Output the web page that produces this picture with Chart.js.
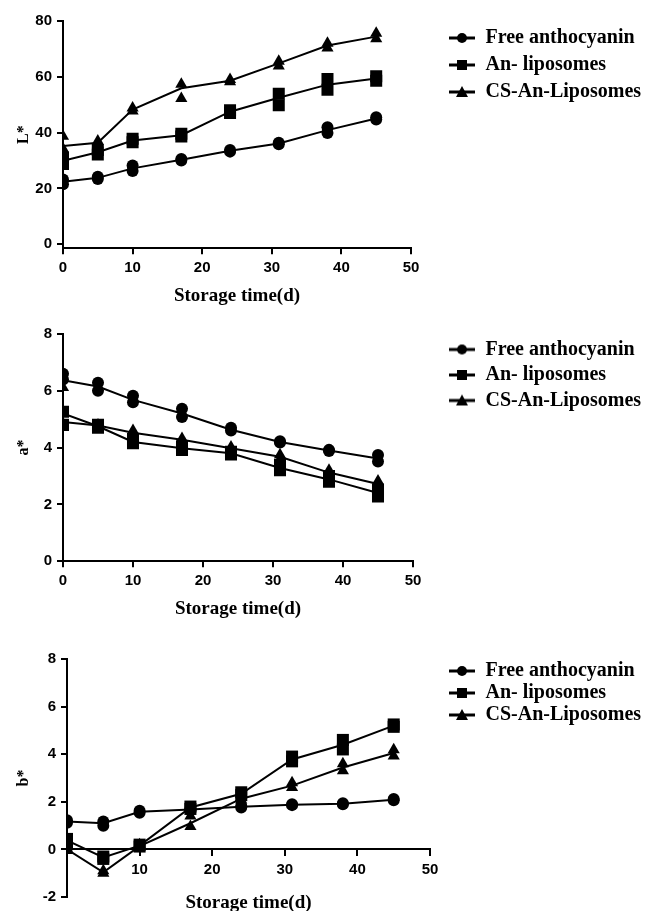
<!DOCTYPE html>
<html>
<head>
<meta charset="utf-8">
<script src="https://cdn.jsdelivr.net/npm/chart.js@4.4.1/dist/chart.umd.min.js"></script>
<style>
  html, body { margin: 0; padding: 0; background: #fff; }
  body { width: 650px; height: 911px; position: relative; overflow: hidden; }
  .panel { position: absolute; left: 0; width: 700px; }
</style>
</head>
<body>
<div class="panel" style="top:0;height:310px"><canvas id="chartL"></canvas></div>
<div class="panel" style="top:310px;height:312px"><canvas id="chartA"></canvas></div>
<div class="panel" style="top:620px;height:291px"><canvas id="chartB"></canvas></div>
<script>
// storage days
const days = [0, 5, 10, 17, 24, 31, 38, 45];
const seriesNames = ["Free anthocyanin", "An- liposomes", "CS-An-Liposomes"];

// L* : line = mean, repA / repB = the two replicate markers
const lFreeMean = [22.4, 23.8, 27.2, 30.3, 33.5, 36.1, 40.9, 45.1];
const lFreeRepA = [23.2, 24.2, 28.2, 30.6, 33.8, 36.4, 41.9, 45.5];
const lFreeRepB = [21.5, 23.4, 26.3, 30.0, 33.2, 35.8, 39.9, 44.7];
const lAnMean = [29.9, 33.0, 37.2, 39.1, 47.5, 52.5, 57.2, 59.4];
const lAnRepA = [31.1, 33.8, 37.8, 39.6, 48.0, 53.9, 59.2, 60.2];
const lAnRepB = [28.8, 32.2, 36.6, 38.6, 47.0, 49.8, 55.4, 58.6];
const lCsMean = [35.2, 36.4, 48.3, 55.9, 58.6, 64.8, 71.2, 74.4];
const lCsRepA = [38.7, 37.0, 48.8, 57.3, 59.0, 65.6, 72.0, 75.6];
const lCsRepB = [34.2, 35.8, 47.8, 52.2, 58.2, 63.9, 70.3, 73.6];

// a*
const aFreeMean = [6.37, 6.15, 5.68, 5.2, 4.63, 4.2, 3.9, 3.62];
const aFreeRepA = [6.6, 6.28, 5.83, 5.37, 4.7, 4.22, 3.92, 3.74];
const aFreeRepB = [6.4, 6.0, 5.6, 5.08, 4.6, 4.18, 3.88, 3.51];
const aAnMean = [5.2, 4.75, 4.2, 3.98, 3.8, 3.28, 2.88, 2.4];
const aAnRepA = [5.26, 4.8, 4.3, 4.05, 3.85, 3.4, 3.0, 2.52];
const aAnRepB = [4.8, 4.7, 4.15, 3.92, 3.76, 3.2, 2.8, 2.28];
const aCsMean = [4.9, 4.78, 4.52, 4.28, 3.98, 3.68, 3.12, 2.72];
const aCsRepA = [6.12, 4.8, 4.6, 4.32, 4.02, 3.75, 3.2, 2.82];
const aCsRepB = [4.85, 4.75, 4.45, 4.25, 3.95, 3.6, 3.05, 2.62];

// b*
const bFreeMean = [1.17, 1.1, 1.58, 1.68, 1.79, 1.88, 1.92, 2.09];
const bFreeRepA = [1.22, 1.17, 1.62, 1.7, 1.82, 1.9, 1.94, 2.12];
const bFreeRepB = [1.12, 0.99, 1.54, 1.66, 1.76, 1.86, 1.9, 2.06];
const bAnMean = [0.38, -0.34, 0.16, 1.76, 2.34, 3.78, 4.4, 5.2];
const bAnRepA = [0.44, -0.3, 0.2, 1.8, 2.4, 3.9, 4.6, 5.25];
const bAnRepB = [0.3, -0.4, 0.12, 1.7, 2.28, 3.7, 4.2, 5.15];
const bCsMean = [0.0, -0.96, 0.14, 1.1, 2.13, 2.68, 3.44, 4.05];
const bCsRepA = [0.05, -0.9, 0.2, 1.4, 2.18, 2.8, 3.6, 4.19];
const bCsRepB = [-0.05, -1.0, 0.1, 0.96, 2.08, 2.6, 3.3, 3.92];

// ticks
const xTickValues = [0, 10, 20, 30, 40, 50];
const xTickLabels = ["0", "10", "20", "30", "40", "50"];
const xTickLabelsB = ["", "10", "20", "30", "40", "50"];
const lTicks = [0, 20, 40, 60, 80];
const aTicks = [0, 2, 4, 6, 8];
const bTicks = [-2, 0, 2, 4, 6, 8];

const markerStyles = ["circle", "rect", "triangle"];
const markerRadius = [6, 8.5, 7];
const tickFont = { family: "'Liberation Sans', Arial, sans-serif", size: 15, weight: "bold" };
const serifFont = { family: "'Liberation Serif', 'Times New Roman', serif", size: 19, weight: "bold" };
const legendFont = { family: "'Liberation Serif', 'Times New Roman', serif", size: 20, weight: "bold" };
const panelWidth = 700;
const legendItemX = 448.5; // where the legend symbols start
const legendSymbolWidth = 27;

Chart.defaults.color = "#000";

// width of the widest legend text, so the legend box can be placed where the figure has it
const measureCtx = document.createElement("canvas").getContext("2d");
measureCtx.font = Chart.helpers.toFont(legendFont).string;
const legendTextWidth = Math.max(...seriesNames.map((n) => measureCtx.measureText(n).width));

// small line+marker glyph for the legend
const legendIcon = (style) => {
  const c = document.createElement("canvas");
  c.width = 26;
  c.height = 14;
  const g = c.getContext("2d");
  g.strokeStyle = "#000";
  g.fillStyle = "#000";
  g.lineWidth = 3;
  g.beginPath();
  g.moveTo(0, 7);
  g.lineTo(26, 7);
  g.stroke();
  g.beginPath();
  if (style === "circle") {
    g.arc(13, 7, 5, 0, Math.PI * 2);
  } else if (style === "rect") {
    g.rect(8, 2, 10, 10);
  } else {
    g.moveTo(13, 1);
    g.lineTo(19, 12);
    g.lineTo(7, 12);
    g.closePath();
  }
  g.fill();
  return c;
};
const legendIcons = markerStyles.map(legendIcon);

const buildDatasets = (means, repsA, repsB) => {
  const lines = means.map((m, k) => ({
    label: seriesNames[k],
    type: "line",
    data: days.map((d, i) => ({ x: d, y: m[i] })),
    borderColor: "#000",
    borderWidth: 2,
    pointRadius: 0,
    pointStyle: legendIcons[k],
    tension: 0,
    yAxisID: "y",
  }));
  const marks = means.map((m, k) => ({
    label: seriesNames[k] + " replicates",
    type: "scatter",
    data: days.map((d, i) => ({ x: d, y: repsA[k][i] })).concat(days.map((d, i) => ({ x: d, y: repsB[k][i] }))),
    backgroundColor: "#000",
    borderColor: "#000",
    borderWidth: 0,
    pointStyle: markerStyles[k],
    pointRadius: markerRadius[k],
    yAxisID: "y",
  }));
  return lines.concat(marks);
};

const axisLook = {
  grid: { drawOnChartArea: false, drawTicks: true, tickLength: 6, color: "#000", lineWidth: 2 },
  border: { display: true, color: "#000", width: 2 },
};

const panelOptions = (p) => {
  // legend box: padding + symbol + half font gap + text + 10
  const legendWidth = p.legendGap + legendSymbolWidth + legendFont.size / 2 + legendTextWidth + 10;
  const left = legendItemX - p.legendGap;
  return {
    responsive: true,
    maintainAspectRatio: false,
    animation: false,
    layout: { padding: { top: p.padTop, bottom: p.padBottom, left: 4, right: Math.max(0, panelWidth - left - legendWidth) } },
    plugins: {
      legend: {
        position: "right",
        align: "start",
        fullSize: false,
        maxWidth: 400,
        labels: {
          usePointStyle: true,
          pointStyleWidth: legendSymbolWidth,
          padding: p.legendGap,
          color: "#000",
          font: legendFont,
          filter: (item) => item.datasetIndex < 3,
        },
      },
      tooltip: { enabled: false },
    },
    scales: {
      x: {
        type: "linear",
        min: 0,
        max: 50,
        position: p.xPosition,
        afterBuildTicks: (s) => {
          s.ticks = xTickValues.map((v) => ({ value: v }));
        },
        ticks: {
          color: "#000",
          font: tickFont,
          padding: 5,
          maxRotation: 0,
          callback: (v) => p.xLabels[xTickValues.indexOf(v)],
        },
        grid: axisLook.grid,
        border: axisLook.border,
        title: { display: true, text: "Storage time(d)", color: "#000", font: serifFont, padding: { top: p.xTitlePad, bottom: 2 } },
      },
      y: {
        type: "linear",
        min: p.yMin,
        max: p.yMax,
        afterBuildTicks: (s) => {
          s.ticks = p.yTicks.map((v) => ({ value: v }));
        },
        afterFit: (s) => {
          s.width = p.yWidth;
        },
        ticks: { color: "#000", font: tickFont, padding: 5 },
        grid: axisLook.grid,
        border: axisLook.border,
        title: {
          display: true,
          text: p.yTitle,
          color: "#000",
          font: { family: "'Liberation Serif', serif", size: 16, weight: "bold" },
          padding: { top: 10, bottom: 0 },
        },
      },
      yGap: {
        position: "right",
        grid: { display: false },
        border: { display: false },
        ticks: { display: false },
        afterFit: (s) => {
          s.width = left - p.chartRight;
        },
      },
    },
  };
};

new Chart(document.getElementById("chartL"), {
  type: "line",
  data: {
    datasets: buildDatasets(
      [lFreeMean, lAnMean, lCsMean],
      [lFreeRepA, lAnRepA, lCsRepA],
      [lFreeRepB, lAnRepB, lCsRepB]
    ),
  },
  options: panelOptions({
    padTop: 21, padBottom: 1, chartRight: 411, yWidth: 59, legendGap: 7,
    yMin: -1.4, yMax: 80, yTicks: lTicks, yTitle: "L*",
    xPosition: "bottom", xLabels: xTickLabels, xTitlePad: 2,
  }),
});

new Chart(document.getElementById("chartA"), {
  type: "line",
  data: {
    datasets: buildDatasets(
      [aFreeMean, aAnMean, aCsMean],
      [aFreeRepA, aAnRepA, aCsRepA],
      [aFreeRepB, aAnRepB, aCsRepB]
    ),
  },
  options: panelOptions({
    padTop: 24, padBottom: 0, chartRight: 413, yWidth: 59, legendGap: 5.5,
    yMin: 0, yMax: 8, yTicks: aTicks, yTitle: "a*",
    xPosition: "bottom", xLabels: xTickLabels, xTitlePad: 2,
  }),
});

new Chart(document.getElementById("chartB"), {
  type: "line",
  data: {
    datasets: buildDatasets(
      [bFreeMean, bAnMean, bCsMean],
      [bFreeRepA, bAnRepA, bCsRepA],
      [bFreeRepB, bAnRepB, bCsRepB]
    ),
  },
  options: panelOptions({
    padTop: 39, padBottom: 9, chartRight: 430, yWidth: 63, legendGap: 2,
    yMin: -2, yMax: 8, yTicks: bTicks, yTitle: "b*",
    xPosition: { y: 0 }, xLabels: xTickLabelsB, xTitlePad: 8,
  }),
});
</script>
</body>
</html>
